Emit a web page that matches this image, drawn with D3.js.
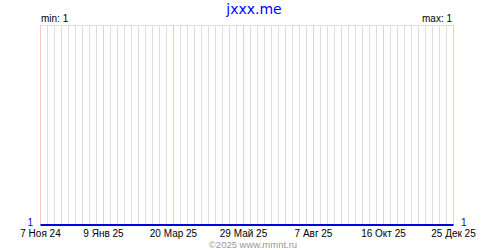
<!DOCTYPE html>
<html><head><meta charset="utf-8">
<script src="https://cdn.jsdelivr.net/npm/d3@7"></script>
<style>html,body{margin:0;padding:0;background:#fff;}svg{display:block;}</style>
</head><body>
<script>
const title = "jxxx.me";
const footer = "©2025 www.mmnt.ru";
const seriesDates = ["2024-11-07", "2025-12-25"];
const seriesValues = [1, 1];
const tickDates = ["2024-11-07", "2025-01-09", "2025-03-20", "2025-05-29", "2025-08-07", "2025-10-16", "2025-12-25"];
const tickLabels = ["7 Ноя 24", "9 Янв 25", "20 Мар 25", "29 Май 25", "7 Авг 25", "16 Окт 25", "25 Дек 25"];

const W = 500, H = 250;
const parse = d3.utcParse("%Y-%m-%d");
const svg = d3.select("body").append("svg").attr("width", W).attr("height", H);
const font = "Liberation Sans, Arial, sans-serif";

const start = parse(seriesDates[0]), end = parse(seriesDates[seriesDates.length - 1]);
const x = d3.scaleUtc().domain([start, end]).range([40.5, 453.5]);
const minV = d3.min(seriesValues), maxV = d3.max(seriesValues);
const y = d3.scaleLinear().domain([minV, minV === maxV ? minV + 1 : maxV]).range([225, 25]);

// weekly grid
const weeks = d3.utcThursday.range(start, d3.utcDay.offset(end, 1));
const majorSet = new Set(tickDates);
const fmt = d3.utcFormat("%Y-%m-%d");
svg.append("g").selectAll("line").data(weeks).join("line")
  .attr("x1", d => x(d)).attr("x2", d => x(d))
  .attr("y1", 25).attr("y2", 225)
  .attr("stroke", d => majorSet.has(fmt(d)) ? "#ffc4c4" : "#dedede")
  .attr("stroke-width", 1);
// top line
svg.append("line").attr("x1", 40).attr("x2", 454).attr("y1", 25.5).attr("y2", 25.5)
  .attr("stroke", "#dedede");

// data line
const line = d3.line().x((d, i) => x(parse(seriesDates[i]))).y(d => y(d));
svg.append("path").datum(seriesValues).attr("d", line)
  .attr("fill", "none").attr("stroke", "#0000dd").attr("stroke-width", 1.8);

// x labels
svg.append("g").selectAll("text").data(tickDates).join("text")
  .attr("x", d => x(parse(d))).attr("y", 237)
  .attr("text-anchor", "middle").attr("font-family", font).attr("font-size", 10)
  .attr("fill", "#000").text((d, i) => tickLabels[i]);

// value labels
svg.append("text").attr("x", 33).attr("y", 226).attr("text-anchor", "end")
  .attr("font-family", font).attr("font-size", 10).attr("fill", "#0000ff")
  .text(seriesValues[0]);
svg.append("text").attr("x", 461).attr("y", 226).attr("text-anchor", "start")
  .attr("font-family", font).attr("font-size", 10).attr("fill", "#0000ff")
  .text(seriesValues[seriesValues.length - 1]);

// min / max
svg.append("text").attr("x", 41).attr("y", 22).attr("font-family", font).attr("font-size", 10)
  .attr("fill", "#000").text("min: " + minV);
svg.append("text").attr("x", 452).attr("y", 22).attr("text-anchor", "end").attr("font-family", font)
  .attr("font-size", 10).attr("fill", "#000").text("max: " + maxV);

// title
svg.append("text").attr("x", 254).attr("y", 14).attr("text-anchor", "middle")
  .attr("font-family", "DejaVu Sans, sans-serif").attr("font-size", 14).attr("fill", "#0000ff").text(title);

// footer
svg.append("text").attr("x", 253).attr("y", 248.3).attr("text-anchor", "middle")
  .attr("font-family", font).attr("font-size", 9.5).attr("fill", "#999").text(footer);
</script>
</body></html>
